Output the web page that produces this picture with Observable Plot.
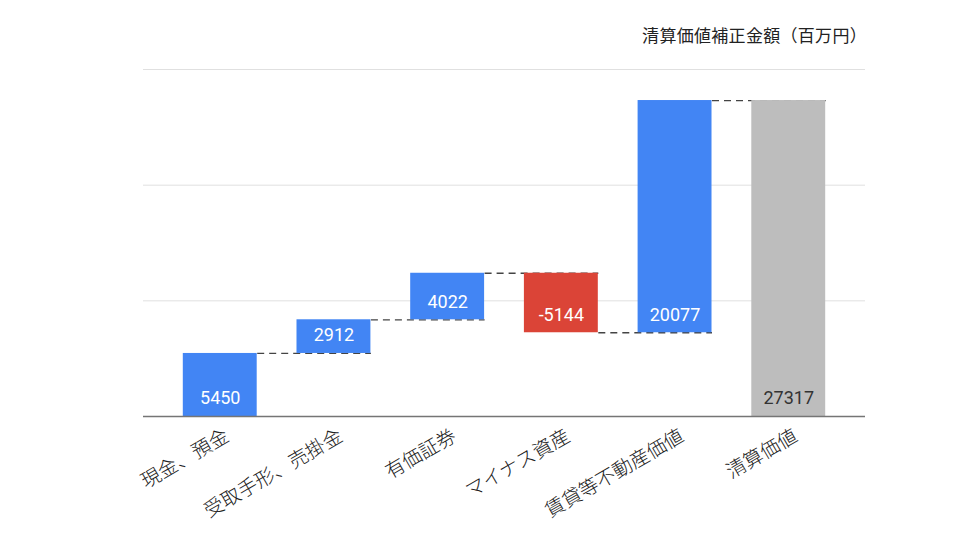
<!DOCTYPE html>
<html>
<head>
<meta charset="utf-8">
<script src="https://cdn.jsdelivr.net/npm/d3@7"></script>
<script src="https://cdn.jsdelivr.net/npm/@observablehq/plot@0.6"></script>
<style>
  html, body { margin: 0; padding: 0; background: #fff; }
  #wrap { width: 960px; height: 540px; }
  #title {
    height: 50px; box-sizing: border-box; padding-top: 25px; padding-right: 93px;
    text-align: right; font-family: "Noto Sans CJK JP", "Noto Sans", sans-serif;
    font-size: 17px; line-height: 19px; color: #222; letter-spacing: 0.3px;
  }
</style>
</head>
<body>
<div id="wrap">
  <div id="title">清算価値補正金額（百万円）</div>
  <div id="chart"></div>
</div>
<script>
const categories = ["現金、預金", "受取手形、売掛金", "有価証券", "マイナス資産", "賃貸等不動産価値", "清算価値"];
const values = [5450, 2912, 4022, -5144, 20077, 27317];
const kinds = ["up", "up", "up", "down", "up", "total"];
const gridValues = [10000, 20000, 30000];

// build the waterfall table from the arrays
let running = 0;
const rows = categories.map((c, i) => {
  let y1, y2;
  if (kinds[i] === "total") { y1 = 0; y2 = values[i]; running = values[i]; }
  else { y1 = running; y2 = running + values[i]; running = y2; }
  return {category: c, value: values[i], kind: kinds[i], y1, y2, low: Math.min(y1, y2)};
});
const links = rows.slice(0, -1).map((r, i) => ({from: r.category, to: rows[i + 1].category, level: r.y2}));

const W = 960, H = 490, mL = 143, mR = 95, mT = 19, mB = 124, pad = 0.35;
const xOpts = {domain: categories, padding: pad, round: false};
// band width in pixels, derived from the layout (for offsetting the connectors)
const step = (W - mL - mR) / (categories.length - pad + 2 * pad);
const bw = step * (1 - pad);

const chart = Plot.plot({
  width: W, height: H,
  marginLeft: mL, marginRight: mR, marginTop: mT, marginBottom: mB,
  style: {fontFamily: "Roboto, 'Noto Sans CJK JP', sans-serif", background: "#fff"},
  x: {...xOpts, label: null},
  y: {domain: [0, 30000], axis: null},
  color: {domain: ["up", "down", "total"], range: ["#4285F4", "#DB4437", "#BDBDBD"]},
  marks: [
    Plot.ruleY(gridValues, {stroke: "#e0e0e0", strokeWidth: 1}),
    Plot.link(links, {x1: "from", x2: "to", y1: "level", y2: "level", dx: bw / 2,
      stroke: "#444", strokeWidth: 1.3, strokeDasharray: "7,5"}),
    Plot.barY(rows, {x: "category", y1: "y1", y2: "y2", fill: "kind"}),
    Plot.ruleY([0], {stroke: "#757575", strokeWidth: 1.5}),
    Plot.text(rows, {x: "category", y: "low", text: d => String(d.value), dy: -18,
      fill: d => d.kind === "total" ? "#333" : "#fff", fontSize: 18, fontFamily: "Roboto"}),
    Plot.axisX({tickSize: 0, tickPadding: 18, tickRotate: -30, fontSize: 19.5, dx: 7,
      fontFamily: "'Noto Sans CJK JP', sans-serif", fontWeight: 300, fill: "#222", label: null})
  ]
});
document.getElementById("chart").appendChild(chart);
</script>
</body>
</html>
